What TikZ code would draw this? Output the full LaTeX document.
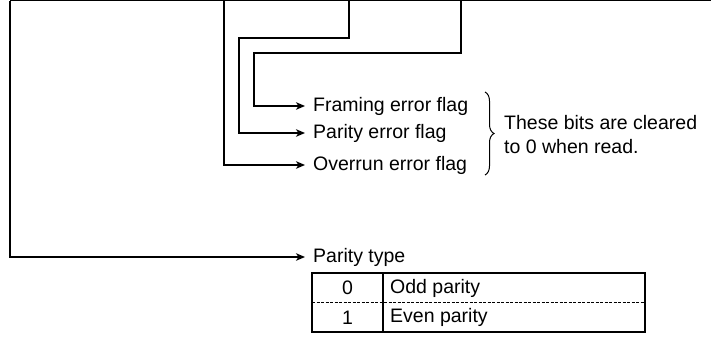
\documentclass[tikz,border=0pt]{standalone}
\usepackage{fontspec}
\setmainfont{Liberation Sans}
\usetikzlibrary{arrows.meta,decorations.pathreplacing}
\begin{document}
\begin{tikzpicture}[x=1pt,y=-1pt,
  wire/.style={line width=1.5pt},
  arr/.style={wire,-{Stealth[length=9pt,width=7.5pt,inset=2.5pt]}},
  txt/.style={font=\fontsize{19.5}{24}\selectfont},
  lbl/.style={txt,anchor=west,inner sep=0pt},
  cell/.style={txt,inner sep=0pt}]
\useasboundingbox (0,0) rectangle (711,337);
% top edge of register
\coordinate (t1) at (10,0.75);
\coordinate (t2) at (224,0.75);
\coordinate (t3) at (349,0.75);
\coordinate (t4) at (461,0.75);
\coordinate (tr) at (711,0.75);
\draw[wire] (t1) -- (tr);
% labels
\node[lbl] (fr) at (313,106) {Framing error flag};
\node[lbl] (pa) at (313,133) {Parity error flag};
\node[lbl] (ov) at (313,165) {Overrun error flag};
\node[lbl] (pt) at (313,257) {Parity type};
\coordinate (frend) at ([xshift=-8pt]fr.west);
\coordinate (paend) at ([xshift=-8pt]pa.west);
\coordinate (ovend) at ([xshift=-8pt]ov.west);
\coordinate (ptend) at ([xshift=-8pt]pt.west);
% corners
\coordinate (c3) at (239,38);
\coordinate (c4) at (254,53);
% connectors
\draw[arr] (t4) |- (c4) |- (frend);
\draw[arr] (t3) |- (c3) |- (paend);
\draw[arr] (t2) |- (ovend);
\draw[arr] (t1) |- (ptend);
% brace and note
\coordinate (bt) at (485,92);
\coordinate (bb) at (485,175);
\draw[line width=1pt,decorate,decoration={brace,amplitude=9pt}] (bt) -- (bb);
\node[lbl,align=left] (note) at (504,135) {These bits are cleared\\to 0 when read.};
% table
\coordinate (tl) at (312,273);
\coordinate (br) at (645,332);
\draw[wire] (tl) rectangle (br);
\draw[wire] (383,273) -- (383,332);
\draw[line width=1pt,dash pattern=on 3pt off 1.5pt] (312,302.5) -- (645,302.5);
\node[cell] (v0) at (347.5,288) {0};
\node[cell] (v1) at (347.5,317.5) {1};
\node[cell,anchor=west] (d0) at (390,288) {Odd parity};
\node[cell,anchor=west] (d1) at (390,317.5) {Even parity};
\end{tikzpicture}
\end{document}
